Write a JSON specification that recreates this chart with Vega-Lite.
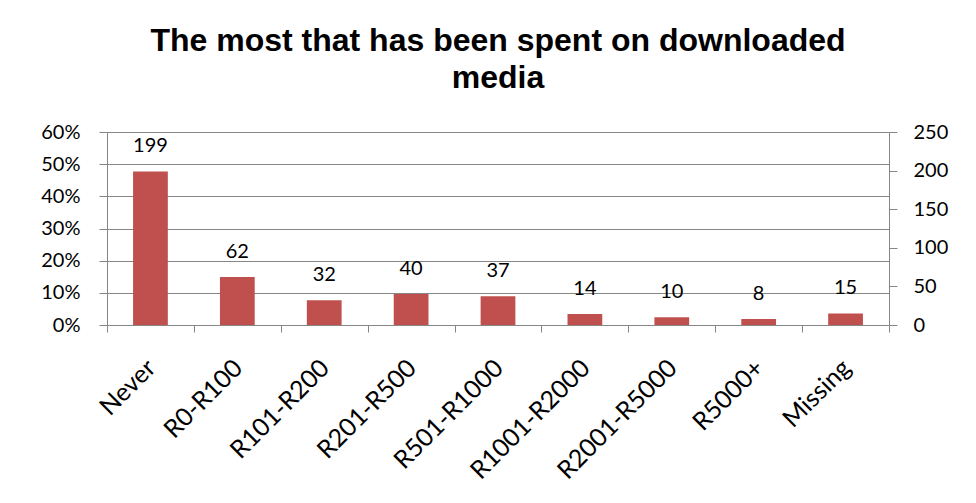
{
  "$schema": "https://vega.github.io/schema/vega-lite/v6.json",
  "width": 782,
  "height": 193,
  "autosize": {"type": "none"},
  "padding": {"left": 107, "top": 132, "right": 87, "bottom": 178},
  "background": "white",
  "title": {
    "text": ["The most that has been spent on downloaded", "media"],
    "font": "Liberation Sans",
    "fontSize": 32,
    "fontWeight": "bold",
    "color": "black",
    "anchor": "middle",
    "lineHeight": 37,
    "offset": 27
  },
  "data": {
    "values": [
      {"category": "Never", "count": 199, "pct": 0.477},
      {"category": "R0-R100", "count": 62, "pct": 0.149},
      {"category": "R101-R200", "count": 32, "pct": 0.077},
      {"category": "R201-R500", "count": 40, "pct": 0.096},
      {"category": "R501-R1000", "count": 37, "pct": 0.089},
      {"category": "R1001-R2000", "count": 14, "pct": 0.034},
      {"category": "R2001-R5000", "count": 10, "pct": 0.024},
      {"category": "R5000+", "count": 8, "pct": 0.019},
      {"category": "Missing", "count": 15, "pct": 0.036}
    ]
  },
  "encoding": {
    "x": {
      "field": "category",
      "type": "nominal",
      "sort": null,
      "scale": {"paddingInner": 0, "paddingOuter": 0},
      "axis": {
        "title": null,
        "labelAngle": -45,
        "labelAlign": "right",
        "labelBaseline": "top",
        "labelPadding": 23,
        "labelOffset": -8,
        "tickBand": "extent",
        "tickSize": 7,
        "tickColor": "#868686",
        "domainColor": "#868686",
        "labelFont": "Lato",
        "labelFontSize": 25,
        "labelColor": "black"
      }
    }
  },
  "layer": [
    {
      "mark": {"type": "bar", "color": "#C0504D", "width": {"band": 0.4}},
      "encoding": {
        "y": {
          "field": "pct",
          "type": "quantitative",
          "scale": {"domain": [0, 0.6]},
          "axis": {
            "title": null,
            "values": [0, 0.1, 0.2, 0.3, 0.4, 0.5, 0.6],
            "format": ".0%",
            "grid": true,
            "gridColor": "#868686",
            "domainColor": "#868686",
            "tickColor": "#868686",
            "tickSize": 8,
            "labelPadding": 19,
            "labelFont": "Lato",
            "labelFontSize": 20,
            "labelColor": "black"
          }
        }
      }
    },
    {
      "mark": {"type": "text", "font": "Lato", "fontSize": 20, "color": "black", "baseline": "alphabetic", "dy": -19},
      "encoding": {
        "y": {
          "field": "count",
          "type": "quantitative",
          "scale": {"domain": [0, 250]},
          "axis": {
            "orient": "right",
            "title": null,
            "values": [0, 50, 100, 150, 200, 250],
            "grid": false,
            "domainColor": "#868686",
            "tickColor": "#868686",
            "tickSize": 8,
            "labelPadding": 16,
            "labelFont": "Lato",
            "labelFontSize": 20,
            "labelColor": "black"
          }
        },
        "text": {"field": "count", "type": "quantitative"}
      }
    }
  ],
  "resolve": {"scale": {"y": "independent"}},
  "config": {"view": {"stroke": null}}
}
